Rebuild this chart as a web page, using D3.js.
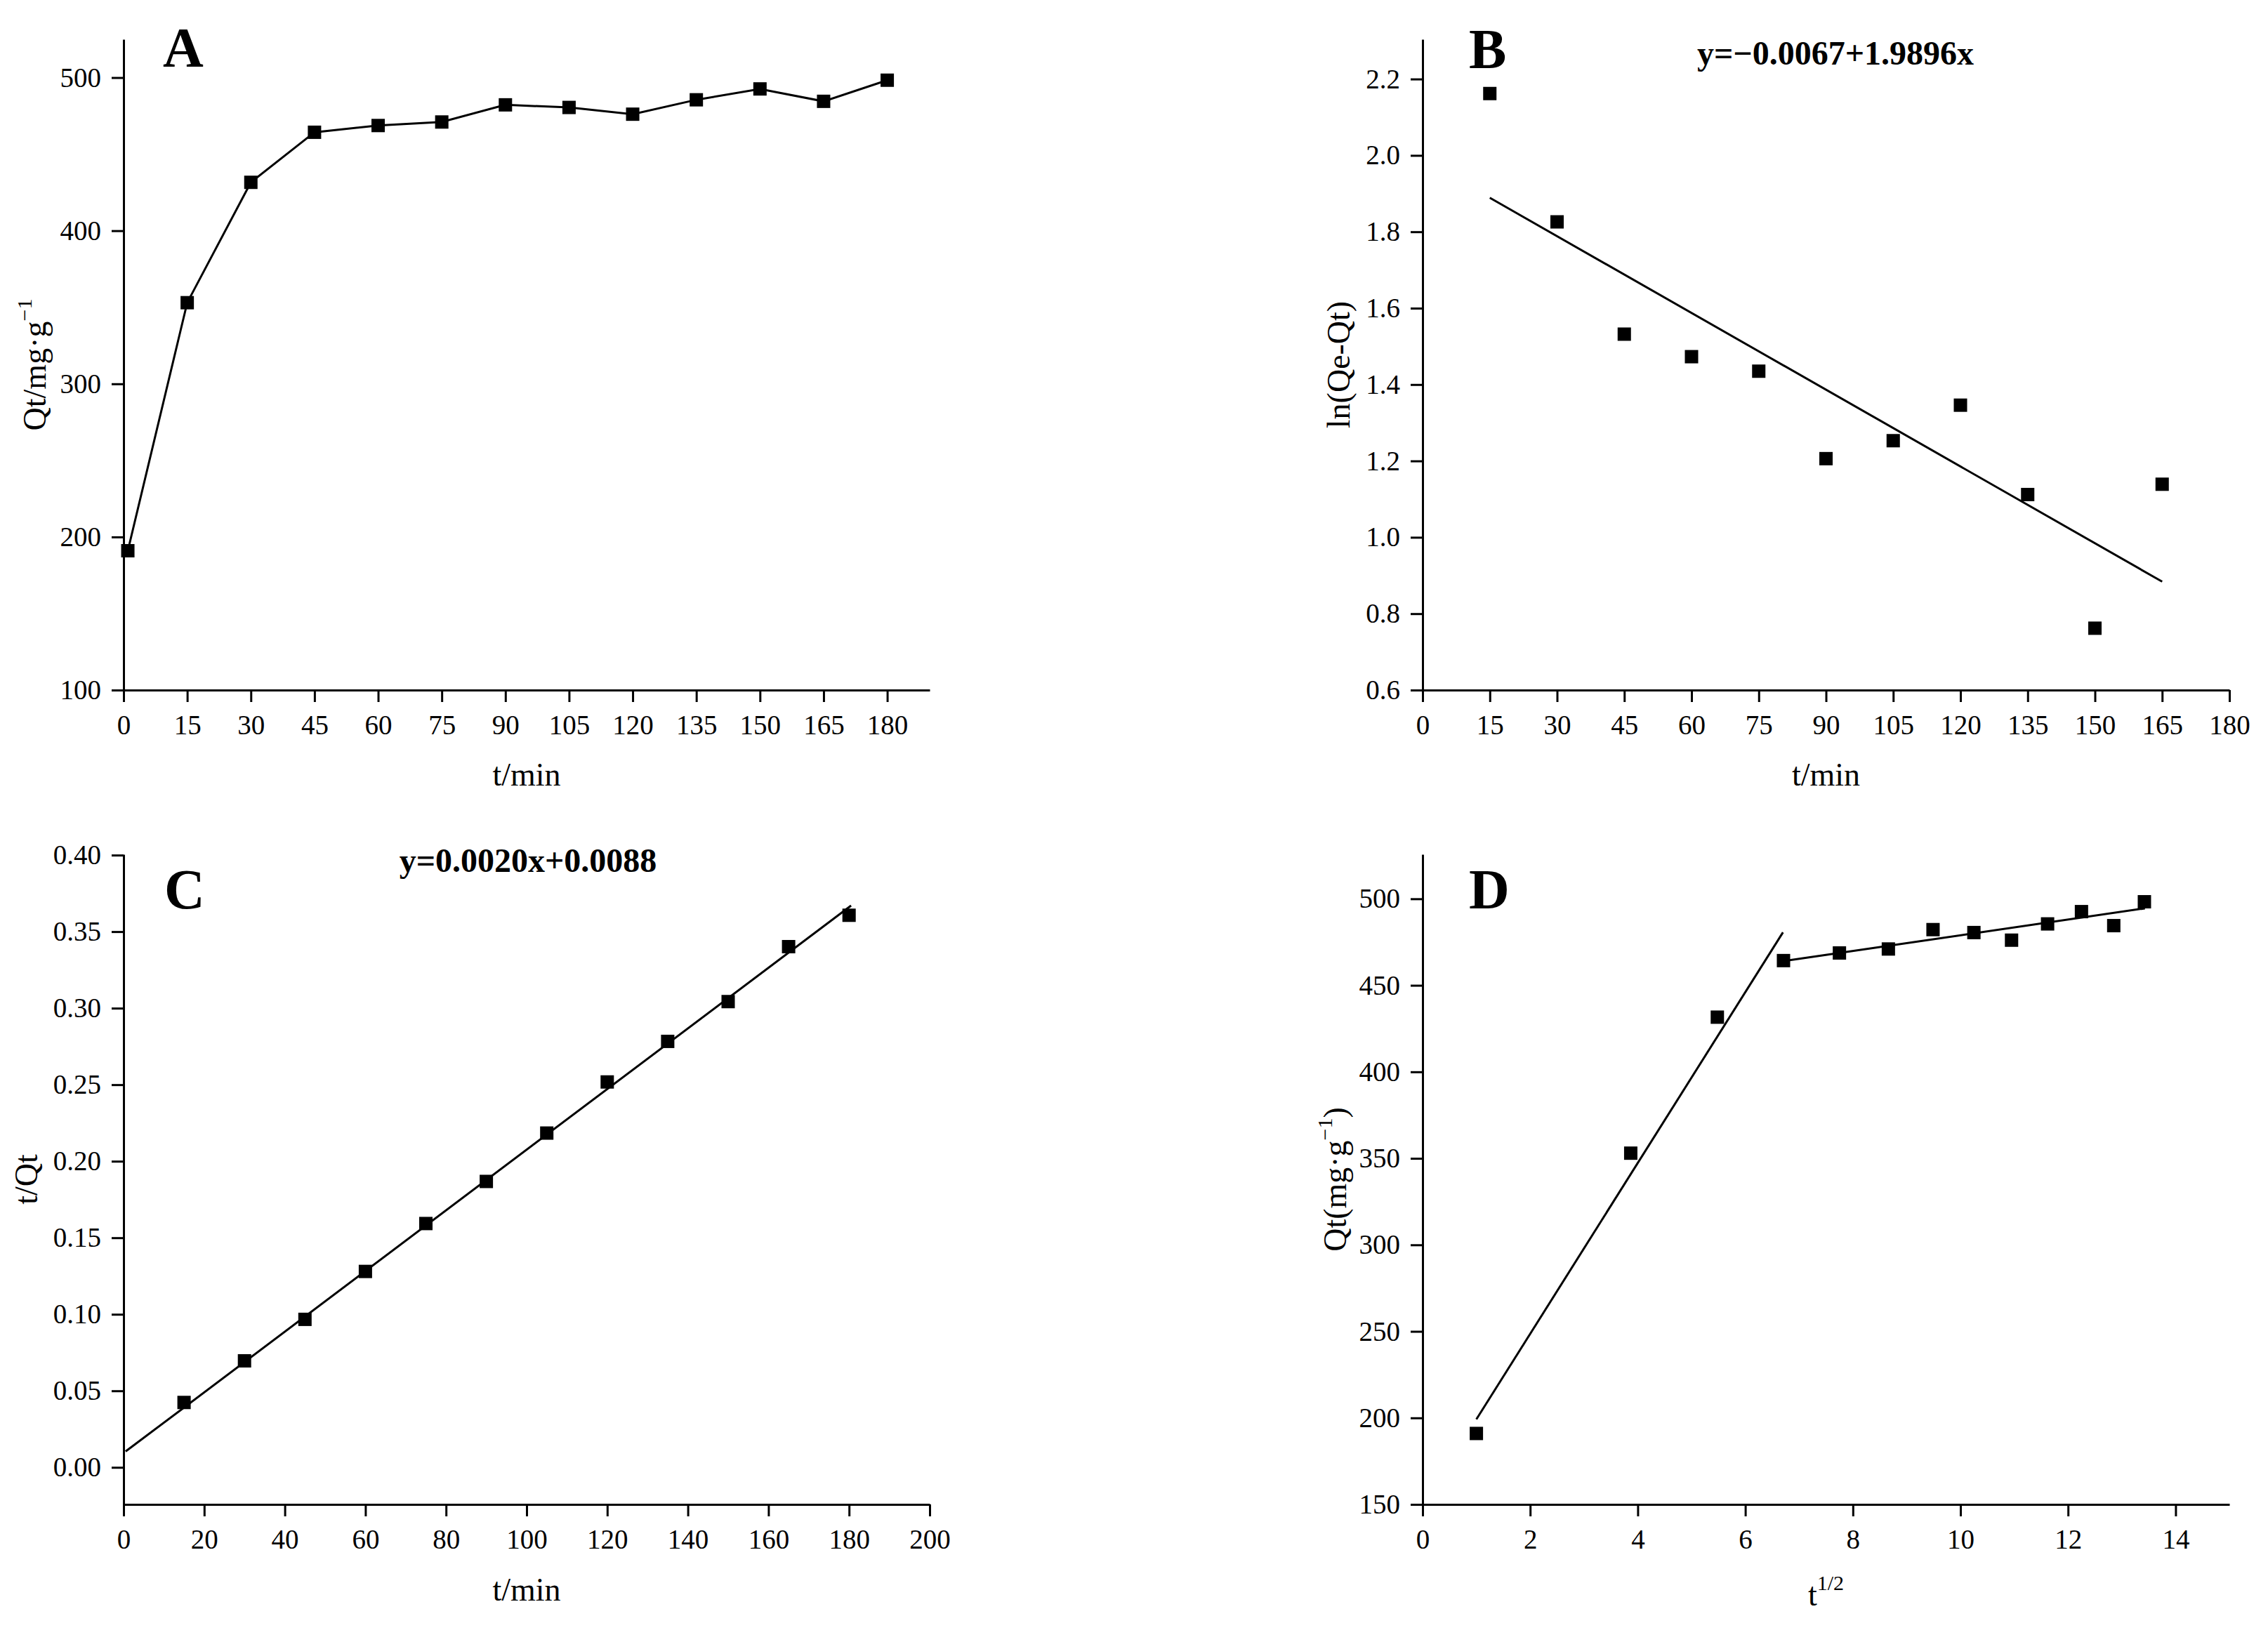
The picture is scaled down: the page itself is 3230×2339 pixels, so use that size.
<!DOCTYPE html>
<html>
<head>
<meta charset="utf-8">
<script src="https://cdn.jsdelivr.net/npm/d3@7"></script>
<style>
  html, body { margin: 0; padding: 0; background: #fff; }
  svg { display: block; }
  svg text { font-family: "Liberation Serif", "Times New Roman", serif !important; fill: #000; }
</style>
</head>
<body>
<script>
// ---------------- DATA ----------------
const timeMin = [1, 15, 30, 45, 60, 75, 90, 105, 120, 135, 150, 165, 180];
const qt = [191, 353, 431.6, 464.3, 468.7, 471, 482.2, 480.5, 476.1, 485.5, 492.6, 484.5, 498.3];

const timeB = [15, 30, 45, 60, 75, 90, 105, 120, 135, 150, 165];
const lnQeQt = [2.162, 1.826, 1.532, 1.473, 1.435, 1.206, 1.253, 1.346, 1.112, 0.762, 1.139];
const fitB = [[15, 1.889], [165, 0.884]];
const eqB = "y=\u22120.0067+1.9896x";

const timeC = [15, 30, 45, 60, 75, 90, 105, 120, 135, 150, 165, 180];
const tOverQt = [0.0424, 0.0696, 0.0967, 0.128, 0.1593, 0.1868, 0.2184, 0.2518, 0.2783, 0.3043, 0.3402, 0.3607];
const fitC = [[0.5, 0.0104], [180.5, 0.367]];
const eqC = "y=0.0020x+0.0088";

const sqrtT = [1.0, 3.87, 5.48, 6.71, 7.75, 8.66, 9.49, 10.25, 10.95, 11.62, 12.25, 12.85, 13.42];
const fitD1 = [[1.0, 199.2], [6.70, 480.6]];
const fitD2 = [[6.78, 464.3], [13.43, 494.5]];

const ticksAx = [0, 15, 30, 45, 60, 75, 90, 105, 120, 135, 150, 165, 180];
const ticksAy = [100, 200, 300, 400, 500];
const ticksBx = [0, 15, 30, 45, 60, 75, 90, 105, 120, 135, 150, 165, 180];
const ticksBy = [0.6, 0.8, 1.0, 1.2, 1.4, 1.6, 1.8, 2.0, 2.2];
const ticksCx = [0, 20, 40, 60, 80, 100, 120, 140, 160, 180, 200];
const ticksCy = [0, 0.05, 0.10, 0.15, 0.20, 0.25, 0.30, 0.35, 0.40];
const ticksDx = [0, 2, 4, 6, 8, 10, 12, 14];
const ticksDy = [150, 200, 250, 300, 350, 400, 450, 500];

// ---------------- DRAW ----------------
const W = 3230, H = 2339;
const FONT = "'Liberation Serif', 'Times New Roman', serif";
const svg = d3.select("body").append("svg").attr("width", W).attr("height", H)
  .style("font-family", FONT);
svg.append("rect").attr("width", W).attr("height", H).attr("fill", "#fff");

function panel(cfg) {
  const x = d3.scaleLinear().domain(cfg.xDomain).range([cfg.left, cfg.right]);
  const y = d3.scaleLinear().domain(cfg.yDomain).range([cfg.bottom, cfg.top]);
  const g = svg.append("g");

  const xa = g.append("g").attr("transform", `translate(0,${cfg.bottom})`)
    .call(d3.axisBottom(x).tickValues(cfg.xTicks).tickFormat(cfg.xFmt || d3.format("d"))
      .tickSize(17).tickSizeOuter(0).tickPadding(18));
  const ya = g.append("g").attr("transform", `translate(${cfg.left},0)`)
    .call(d3.axisLeft(y).tickValues(cfg.yTicks).tickFormat(cfg.yFmt || d3.format("d"))
      .tickSize(17).tickSizeOuter(0).tickPadding(15));
  [xa, ya].forEach(a => {
    a.attr("font-family", FONT).style("font-family", FONT);
    a.select(".domain").attr("stroke", "#000").attr("stroke-width", 3);
    a.selectAll(".tick line").attr("stroke", "#000").attr("stroke-width", 3);
    a.selectAll(".tick text").attr("font-size", 39)
      .style("font-family", FONT).attr("fill", "#000");
  });

  if (cfg.connect) {
    g.append("path").datum(cfg.xs.map((d, i) => [d, cfg.ys[i]]))
      .attr("fill", "none").attr("stroke", "#000").attr("stroke-width", 3)
      .attr("d", d3.line().x(d => x(d[0])).y(d => y(d[1])));
  }
  (cfg.fits || []).forEach(f => {
    g.append("path").datum(f)
      .attr("fill", "none").attr("stroke", "#000").attr("stroke-width", 3)
      .attr("d", d3.line().x(d => x(d[0])).y(d => y(d[1])));
  });
  const s = 19;
  g.selectAll("rect.m").data(cfg.xs.map((d, i) => [d, cfg.ys[i]])).enter().append("rect")
    .attr("class", "m")
    .attr("x", d => x(d[0]) - s / 2).attr("y", d => y(d[1]) - s / 2)
    .attr("width", s).attr("height", s).attr("fill", "#000");

  g.append("text").attr("x", cfg.letterX).attr("y", cfg.letterY)
    .attr("font-size", 80).attr("font-weight", "bold").text(cfg.letter);

  if (cfg.eq) {
    g.append("text").attr("x", cfg.eqX).attr("y", cfg.eqY).attr("text-anchor", "middle")
      .attr("font-size", 48).attr("font-weight", "bold").text(cfg.eq);
  }

  const xt = g.append("text").attr("x", (cfg.left + cfg.right) / 2).attr("y", cfg.bottom + cfg.xTitleDy)
    .attr("text-anchor", "middle").attr("font-size", 46);
  cfg.xTitle(xt);

  const yt = g.append("text")
    .attr("transform", `translate(${cfg.left - cfg.yTitleDx},${(cfg.top + cfg.bottom) / 2}) rotate(-90)`)
    .attr("text-anchor", "middle").attr("font-size", 46);
  cfg.yTitle(yt);
}

const plain = s => t => t.text(s);

panel({
  left: 176, right: 1324, top: 56, bottom: 983,
  xDomain: [0, 190], yDomain: [100, 525],
  xTicks: ticksAx, yTicks: ticksAy,
  xs: timeMin, ys: qt, connect: true,
  letter: "A", letterX: 232, letterY: 95,
  xTitleDy: 136, xTitle: plain("t/min"),
  yTitleDx: 111,
  yTitle: t => {
    t.append("tspan").text("Qt/mg\u00b7g");
    t.append("tspan").attr("font-size", 30).attr("dy", -20).text("\u22121");
  }
});

panel({
  left: 2026, right: 3175, top: 56, bottom: 983,
  xDomain: [0, 180], yDomain: [0.6, 2.304],
  xTicks: ticksBx, yTicks: ticksBy, yFmt: d3.format(".1f"),
  xs: timeB, ys: lnQeQt, fits: [fitB],
  letter: "B", letterX: 2092, letterY: 97,
  eq: eqB, eqX: 2614, eqY: 92,
  xTitleDy: 136, xTitle: plain("t/min"),
  yTitleDx: 104, yTitle: plain("ln(Qe-Qt)")
});

panel({
  left: 176, right: 1324, top: 1217, bottom: 2143,
  xDomain: [0, 200], yDomain: [-0.0242, 0.4005],
  xTicks: ticksCx, yTicks: ticksCy, yFmt: d3.format(".2f"),
  xs: timeC, ys: tOverQt, fits: [fitC],
  letter: "C", letterX: 234, letterY: 1294,
  eq: eqC, eqX: 752, eqY: 1242,
  xTitleDy: 137, xTitle: plain("t/min"),
  yTitleDx: 123, yTitle: plain("t/Qt")
});

panel({
  left: 2026, right: 3175, top: 1217, bottom: 2143,
  xDomain: [0, 15], yDomain: [150, 525.7],
  xTicks: ticksDx, yTicks: ticksDy,
  xs: sqrtT, ys: qt, fits: [fitD1, fitD2],
  letter: "D", letterX: 2092, letterY: 1294,
  xTitleDy: 144,
  xTitle: t => {
    t.append("tspan").text("t");
    t.append("tspan").attr("font-size", 30).attr("dy", -22).text("1/2");
  },
  yTitleDx: 109,
  yTitle: t => {
    t.append("tspan").text("Qt(mg\u00b7g");
    t.append("tspan").attr("font-size", 30).attr("dy", -20).text("\u22121");
    t.append("tspan").attr("dy", 20).text(")");
  }
});
</script>
</body>
</html>
